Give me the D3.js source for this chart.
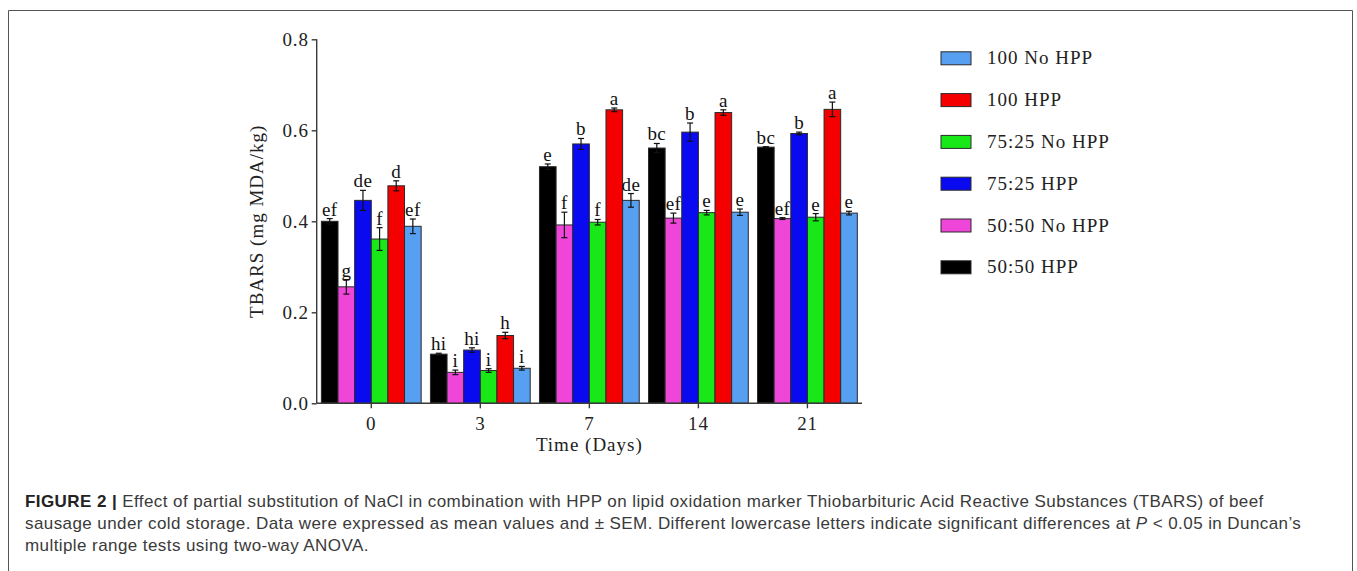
<!DOCTYPE html>
<html>
<head>
<meta charset="utf-8">
<script src="https://cdn.jsdelivr.net/npm/d3@7"></script>
<style>
  html, body { margin: 0; padding: 0; background: #fff; }
  svg { display: block; }
</style>
</head>
<body>
<svg id="chart" width="1357" height="571"></svg>
<script>
// ---- data ----
const days = ["0", "3", "7", "14", "21"];
const series = ["50:50 HPP", "50:50 No HPP", "75:25 HPP", "75:25 No HPP", "100 HPP", "100 No HPP"];
const legendOrder = ["100 No HPP", "100 HPP", "75:25 No HPP", "75:25 HPP", "50:50 No HPP", "50:50 HPP"];
const colors = ["#000000", "#ef45d8", "#0a0af0", "#18e818", "#f50000", "#579ff0"];

const v5050HPP   = [0.400, 0.108, 0.520, 0.561, 0.563];
const v5050No    = [0.256, 0.068, 0.392, 0.407, 0.406];
const v7525HPP   = [0.446, 0.117, 0.570, 0.596, 0.593];
const v7525No    = [0.361, 0.072, 0.398, 0.419, 0.409];
const v100HPP    = [0.478, 0.149, 0.645, 0.639, 0.646];
const v100No     = [0.389, 0.077, 0.446, 0.420, 0.418];

const e5050HPP   = [0.006, 0.002, 0.006, 0.010, 0.001];
const e5050No    = [0.016, 0.005, 0.028, 0.011, 0.002];
const e7525HPP   = [0.022, 0.005, 0.012, 0.020, 0.003];
const e7525No    = [0.025, 0.004, 0.006, 0.005, 0.008];
const e100HPP    = [0.011, 0.007, 0.004, 0.006, 0.016];
const e100No     = [0.016, 0.004, 0.015, 0.007, 0.004];

const l5050HPP   = ["ef", "hi", "e", "bc", "bc"];
const l5050No    = ["g", "i", "f", "ef", "ef"];
const l7525HPP   = ["de", "hi", "b", "b", "b"];
const l7525No    = ["f", "i", "f", "e", "e"];
const l100HPP    = ["d", "h", "a", "a", "a"];
const l100No     = ["ef", "i", "de", "e", "e"];

const yTicks = [0, 0.2, 0.4, 0.6, 0.8];
const yTitle = "TBARS (mg MDA/kg)";
const xTitle = "Time (Days)";

const values = [v5050HPP, v5050No, v7525HPP, v7525No, v100HPP, v100No];
const errors = [e5050HPP, e5050No, e7525HPP, e7525No, e100HPP, e100No];
const letters = [l5050HPP, l5050No, l7525HPP, l7525No, l100HPP, l100No];

// ---- layout ----
(function () {
const svg = d3.select("#chart");
const serif = "'Liberation Serif', 'Times New Roman', serif";
const axisColor = "#3a3a3a";

// frame
svg.append("path")
  .attr("d", "M8.5,571 V10.5 H1352.5 V571")
  .attr("fill", "none").attr("stroke", "#555").attr("stroke-width", 1);

const pL = 316.7, pR = 862, pT = 39.3, pB = 403.3;

const x0 = d3.scaleBand().domain(days).range([pL, pR]).paddingInner(0.085).paddingOuter(0.043);
const x1 = d3.scaleBand().domain(series).range([0, x0.bandwidth()]).padding(0);
const y = d3.scaleLinear().domain([0, 0.8]).range([pB, pT]);
const color = d3.scaleOrdinal().domain(series).range(colors);

const rows = [];
series.forEach((s, si) => {
  days.forEach((d, di) => {
    rows.push({ s, d, v: values[si][di], e: errors[si][di], l: letters[si][di] });
  });
});
const cx = r => x0(r.d) + x1(r.s) + x1.bandwidth() / 2;

const g = svg.append("g");

// bars
g.selectAll("rect.bar").data(rows).join("rect")
  .attr("class", "bar")
  .attr("x", r => x0(r.d) + x1(r.s))
  .attr("y", r => y(r.v))
  .attr("width", x1.bandwidth())
  .attr("height", r => y(0) - y(r.v))
  .attr("fill", r => color(r.s))
  .attr("stroke", "#2a2a2a").attr("stroke-width", 1);

// error bars
const eb = g.selectAll("g.err").data(rows).join("g").attr("class", "err")
  .attr("stroke", "#111").attr("stroke-width", 1.2);
eb.append("line")
  .attr("x1", cx).attr("x2", cx)
  .attr("y1", r => y(r.v - r.e)).attr("y2", r => y(r.v + r.e));
eb.append("line")
  .attr("x1", r => cx(r) - 3).attr("x2", r => cx(r) + 3)
  .attr("y1", r => y(r.v + r.e)).attr("y2", r => y(r.v + r.e));
eb.append("line")
  .attr("x1", r => cx(r) - 3).attr("x2", r => cx(r) + 3)
  .attr("y1", r => y(r.v - r.e)).attr("y2", r => y(r.v - r.e));

// significance letters
g.selectAll("text.sig").data(rows).join("text")
  .attr("class", "sig")
  .attr("x", cx)
  .attr("y", r => y(r.v + r.e) - 3)
  .attr("text-anchor", "middle")
  .attr("font-family", serif).attr("font-size", 19).attr("letter-spacing", 0.4)
  .attr("fill", "#111")
  .text(r => r.l);

// y axis
const yAxis = svg.append("g").attr("transform", `translate(${pL},0)`)
  .call(d3.axisLeft(y).tickValues(yTicks).tickFormat(d3.format(".1f")).tickSize(5).tickPadding(3));
yAxis.select(".domain").attr("stroke", axisColor).attr("stroke-width", 1.4).attr("d", `M0,${pT}V${pB}`);
yAxis.selectAll(".tick line").attr("stroke", axisColor).attr("stroke-width", 1.4);
yAxis.selectAll(".tick text").attr("font-family", serif).attr("font-size", 19)
  .attr("letter-spacing", 0.8).attr("fill", "#222");

// x axis
const xAxis = svg.append("g").attr("transform", `translate(0,${pB})`)
  .call(d3.axisBottom(x0).tickSize(5).tickPadding(8));
xAxis.select(".domain").attr("stroke", axisColor).attr("stroke-width", 1.4).attr("d", `M${pL},0H${pR}`);
xAxis.selectAll(".tick line").attr("stroke", axisColor).attr("stroke-width", 1.4);
xAxis.selectAll(".tick text").attr("font-family", serif).attr("font-size", 19)
  .attr("letter-spacing", 0.8).attr("fill", "#222");

// axis titles
svg.append("text")
  .attr("transform", `translate(263,${(pT + pB) / 2}) rotate(-90)`)
  .attr("text-anchor", "middle")
  .attr("font-family", serif).attr("font-size", 19).attr("letter-spacing", 1)
  .attr("fill", "#222")
  .text(yTitle);
svg.append("text")
  .attr("x", x0("7") + x0.bandwidth() / 2).attr("y", 451)
  .attr("text-anchor", "middle")
  .attr("font-family", serif).attr("font-size", 19).attr("letter-spacing", 1)
  .attr("fill", "#222")
  .text(xTitle);

// legend
const lg = svg.append("g");
const ly = d3.scalePoint().domain(legendOrder).range([58.3, 267.3]);
lg.selectAll("rect").data(legendOrder).join("rect")
  .attr("x", 941).attr("y", d => ly(d) - 6.5)
  .attr("width", 30).attr("height", 13)
  .attr("fill", d => color(d))
  .attr("stroke", "#2a2a2a").attr("stroke-width", 1);
lg.selectAll("text").data(legendOrder).join("text")
  .attr("x", 987).attr("y", d => ly(d) + 6)
  .attr("font-family", serif).attr("font-size", 19).attr("letter-spacing", 1)
  .attr("fill", "#222")
  .text(d => d);

// caption
const sans = "'Liberation Sans', Arial, Helvetica, sans-serif";
const cap = svg.append("g").attr("font-family", sans).attr("font-size", 17)
  .attr("letter-spacing", 0.42).attr("fill", "#3a3a3a");
const t1 = cap.append("text").attr("x", 25).attr("y", 507);
t1.append("tspan").attr("font-weight", "bold").attr("fill", "#222").text("FIGURE 2 |");
t1.append("tspan").text(" Effect of partial substitution of NaCl in combination with HPP on lipid oxidation marker Thiobarbituric Acid Reactive Substances (TBARS) of beef");
const t2 = cap.append("text").attr("x", 25).attr("y", 529);
t2.append("tspan").text("sausage under cold storage. Data were expressed as mean values and \u00B1 SEM. Different lowercase letters indicate significant differences at ");
t2.append("tspan").attr("font-style", "italic").text("P");
t2.append("tspan").text(" < 0.05 in Duncan\u2019s");
cap.append("text").attr("x", 25).attr("y", 551).text("multiple range tests using two-way ANOVA.");
})();
</script>
</body>
</html>
